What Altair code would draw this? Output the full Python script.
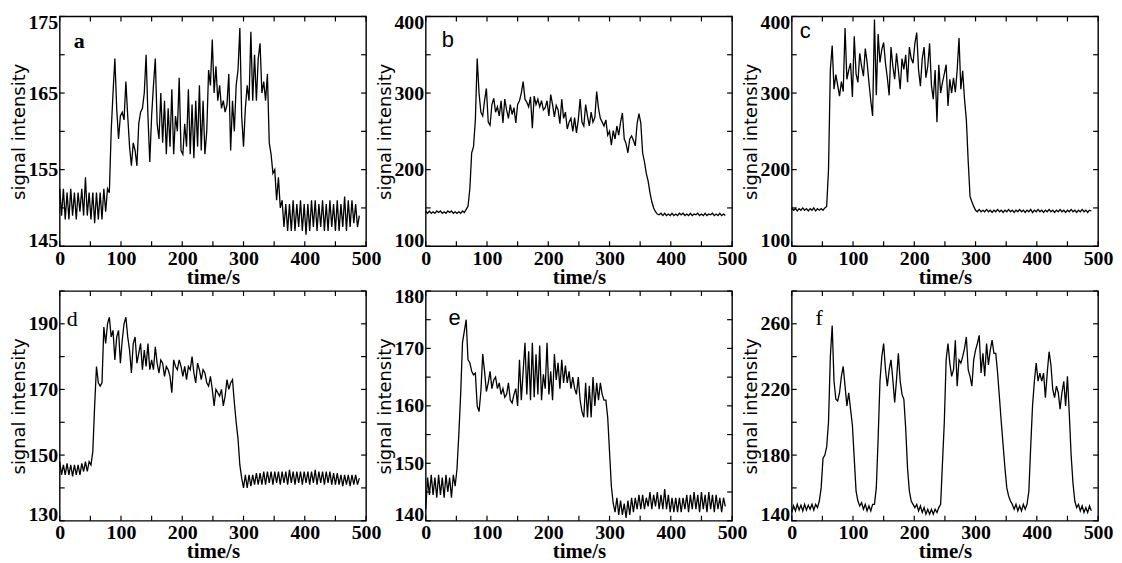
import altair as alt
import pandas as pd

TIME = list(range(0, 490, 3))

A = [152.5, 149, 152.5, 148.5, 152, 148.5, 152.5, 149, 152, 148.5,
     152, 149.5, 152.5, 149, 154, 149, 152, 148.5, 152, 148,
     152, 148.5, 152, 148.5, 152.5, 149.5, 152.5, 152, 160, 165,
     169.5, 163, 159, 162, 162.5, 161.5, 166.5, 162, 158, 155.5,
     158.5, 157.5, 155.5, 161, 162.5, 163, 165, 170, 162, 156,
     162, 166, 169.5, 161, 159, 165, 158.5, 164, 157, 163,
     158, 165.5, 157, 162, 160, 167, 157.5, 157, 161, 158,
     165.5, 157, 163.5, 156.5, 164, 158, 166, 157.5, 164, 157,
     160, 168, 166, 172, 165, 168.5, 164, 166, 163, 164,
     162.5, 163.5, 167.5, 157.5, 164, 160, 166, 168, 173.5, 162,
     158, 163, 166, 164, 173, 164, 170, 164, 169.5, 171.5,
     165, 166.5, 164, 167.5, 158.5, 157, 154.5, 155, 151, 154,
     150, 151, 147.5, 150.5, 147, 150.5, 147, 151, 147, 150.5,
     147.5, 151, 147, 150.5, 146.5, 150.5, 147, 151, 147.5, 151,
     147, 150.5, 147.5, 151, 147, 150.5, 147, 151, 147.5, 150.5,
     147, 151, 147, 150.5, 147.5, 151.5, 147, 151, 147.5, 151,
     148, 150.5, 147.5, 149]

B = [146, 143, 146, 143, 145, 143, 146, 144, 146, 143,
     145, 143, 146, 144, 146, 143, 145, 143, 145, 143,
     146, 144, 148, 152, 175, 222, 230, 265, 345, 300,
     275, 270, 290, 306, 262, 258, 285, 293, 275, 282,
     270, 290, 261, 292, 278, 267, 285, 272, 281, 261,
     285, 290, 300, 315, 292, 288, 282, 295, 254, 296,
     285, 292, 282, 290, 278, 281, 290, 270, 298, 285,
     269, 284, 278, 260, 292, 267, 275, 253, 262, 267,
     250, 268, 248, 265, 292, 262, 257, 285, 270, 257,
     275, 262, 268, 302, 280, 267, 262, 257, 265, 245,
     250, 232, 251, 240, 257, 245, 262, 274, 240, 234,
     222, 240, 244, 238, 231, 260, 273, 261, 222, 210,
     195, 185, 170, 158, 150, 145, 142, 141, 143, 140,
     143, 140, 142, 140, 143, 140, 142, 140, 143, 141,
     143, 140, 142, 140, 143, 140, 142, 141, 143, 140,
     142, 140, 143, 140, 142, 141, 143, 140, 142, 140,
     143, 140, 142, 140]

C = [150, 147, 149, 146, 149, 147, 150, 147, 149, 146,
     149, 147, 150, 146, 149, 147, 149, 147, 150, 152,
     200, 330, 362, 305, 324, 310, 296, 315, 302, 385,
     318, 330, 339, 295, 374, 325, 314, 352, 335, 322,
     358, 340, 314, 290, 270, 396, 297, 377, 340, 357,
     366, 339, 320, 297, 360, 335, 318, 352, 330, 305,
     345, 331, 350, 314, 360, 345, 339, 365, 379, 330,
     309, 345, 360, 320, 335, 365, 310, 292, 330, 262,
     337, 300, 314, 325, 337, 283, 318, 300, 320, 301,
     330, 372, 305, 329, 292, 265, 211, 165, 158, 152,
     147, 145, 148, 145, 147, 145, 148, 145, 147, 144,
     147, 145, 148, 145, 147, 144, 147, 145, 148, 145,
     147, 144, 147, 145, 148, 145, 147, 144, 147, 145,
     148, 144, 147, 145, 148, 145, 147, 144, 147, 145,
     148, 145, 147, 144, 147, 145, 148, 145, 147, 144,
     147, 145, 148, 145, 147, 144, 147, 145, 148, 145,
     147, 144, 147, 146]

D = [148, 144, 147, 144, 147.5, 144, 147, 143.5, 147, 144,
     147, 144, 147.5, 145, 148, 145, 148, 147, 151, 165,
     177, 172, 171, 172, 189, 184, 190, 192, 186, 188,
     179, 186, 188, 178, 185, 190, 192, 186, 182, 175,
     184, 186, 178, 181, 184, 176, 182, 177, 184, 176,
     179, 176, 183, 178, 175, 179, 178, 174, 177, 176,
     174, 169, 179, 177, 176, 179, 177, 174, 177, 173,
     177, 176, 180, 175, 172, 178, 176, 173, 176, 175,
     172, 171, 174, 170, 165, 170, 169, 168, 170, 165,
     168, 173, 170, 172, 173, 166, 160, 155, 147, 143,
     140, 144, 140, 144, 140.5, 144, 141, 144.5, 141, 144.5,
     141, 145, 141, 145, 141.5, 145, 141, 145, 141.5, 145,
     141, 145, 141.5, 145, 141, 145.5, 141.5, 145, 141, 145,
     141.5, 145, 141, 145, 141.5, 145, 141, 145, 141.5, 145.5,
     141, 145, 141.5, 145, 141, 145, 141.5, 145, 141, 144.5,
     141, 144.5, 141, 144, 140.5, 144, 141, 144, 140.5, 144,
     141, 144, 141, 143]

E = [142, 147.5, 144.5, 148, 144.5, 147.5, 144, 148, 144.5, 147.5,
     144, 148, 145, 147.5, 144, 148, 146, 149, 155, 162,
     171, 173, 175, 168, 167.5, 166, 165.4, 165.7, 160, 159,
     162.5, 169, 166, 162.5, 164, 166, 163, 164.5, 165, 163,
     164, 162, 163, 161.5, 162, 164, 161, 160.5, 162, 163,
     160, 168, 161, 166, 171, 162, 169.5, 161, 171, 161.5,
     169, 162, 170.5, 161, 165.5, 163, 171, 162, 166, 161,
     169, 164.5, 167.5, 163, 168, 164, 167, 164, 166, 163,
     165, 163, 162, 165, 161, 159, 158, 164, 158, 163.5,
     158, 165, 160, 164, 161, 164, 162, 161, 161, 158,
     152, 146, 143, 141.5, 144, 141, 143.5, 141, 143, 140.5,
     143.5, 141, 144, 141.5, 144, 142, 144.5, 142, 144.5, 142,
     144, 142.5, 145, 142, 144.5, 142.5, 145, 142, 144.5, 142,
     145.5, 142, 144.5, 141.5, 144, 141.5, 144, 141.5, 144, 141.5,
     144, 142, 144.5, 141.5, 144.5, 142, 145, 142, 144.5, 141.5,
     145, 142, 144.5, 141.5, 145, 142, 144.5, 141.5, 144.5, 142,
     144, 141.5, 144, 142.5]

F = [145, 149, 146, 150, 146.5, 149.5, 146, 150, 146.5, 149.5,
     147, 150, 146.5, 150, 148, 152, 160, 178, 180, 185,
     200, 240, 259, 225, 214, 213, 218, 228, 234, 222,
     210, 218, 208, 198, 178, 158, 152, 149, 151, 147,
     150, 146, 149, 146, 150, 150, 160, 190, 225, 240,
     248, 232, 222, 232, 238, 226, 212, 226, 242, 225,
     217, 214, 196, 172, 158, 152, 150, 148, 150, 146,
     149, 145, 148, 144, 147, 144, 147, 144, 147, 145,
     148, 150, 175, 200, 238, 248, 236, 228, 232, 250,
     222, 238, 236, 240, 245, 252, 232, 228, 222, 238,
     244, 248, 253, 230, 242, 228, 248, 235, 244, 250,
     242, 242, 230, 215, 200, 186, 172, 160, 155, 152,
     150, 147, 150, 146, 149, 146, 150, 147, 150, 158,
     185, 210, 225, 236, 225, 230, 225, 230, 215, 230,
     243, 235, 220, 215, 222, 218, 208, 218, 225, 210,
     228, 205, 180, 163, 152, 148, 150, 146, 149, 145,
     148, 145, 149, 146]

X_LABELS = [0, 100, 200, 300, 400, 500]
X_TICKS = [0, 50, 100, 150, 200, 250, 300, 350, 400, 450, 500]

PANELS = [
    dict(key="a", values=A, domain=[145, 175], labels=[145, 155, 165, 175],
         ticks=[145, 150, 155, 160, 165, 170, 175],
         font="Liberation Serif", weight="bold", lx=14, ly=32),
    dict(key="b", values=B, domain=[100, 400], labels=[100, 200, 300, 400],
         ticks=[100, 150, 200, 250, 300, 350, 400],
         font="Liberation Sans", weight="normal", lx=16, ly=31),
    dict(key="c", values=C, domain=[100, 400], labels=[100, 200, 300, 400],
         ticks=[100, 150, 200, 250, 300, 350, 400],
         font="Liberation Sans", weight="normal", lx=8, ly=22),
    dict(key="d", values=D, domain=[130, 200], labels=[130, 150, 170, 190],
         ticks=[130, 140, 150, 160, 170, 180, 190, 200],
         font="Liberation Serif", weight="normal", lx=7, ly=35),
    dict(key="e", values=E, domain=[140, 180], labels=[140, 150, 160, 170, 180],
         ticks=[140, 145, 150, 155, 160, 165, 170, 175, 180],
         font="Liberation Sans", weight="normal", lx=23, ly=34),
    dict(key="f", values=F, domain=[140, 280], labels=[140, 180, 220, 260],
         ticks=[140, 160, 180, 200, 220, 240, 260, 280],
         font="Liberation Serif", weight="normal", lx=24, ly=34),
]

W, H = 308, 231
TL = 5  # inward tick length


def panel(p):
    df = pd.DataFrame({"time": TIME[:len(p["values"])], "signal": p["values"]})
    x = alt.X("time:Q",
              scale=alt.Scale(domain=[0, 500], nice=False, zero=False),
              axis=alt.Axis(values=X_LABELS, title="time/s", format="d"))
    y = alt.Y("signal:Q",
              scale=alt.Scale(domain=p["domain"], nice=False, zero=False),
              axis=alt.Axis(values=p["labels"], title="signal intensity", format="d"))
    line = alt.Chart(df).mark_line(color="black", strokeWidth=1.3).encode(x=x, y=y)

    xt = pd.DataFrame({"time": X_TICKS})
    yt = pd.DataFrame({"signal": p["ticks"]})
    rule = dict(color="black", strokeWidth=1.2)
    t_bottom = alt.Chart(xt).mark_rule(**rule).encode(
        x=x, y=alt.value(H), y2=alt.value(H - TL))
    t_top = alt.Chart(xt).mark_rule(**rule).encode(
        x=x, y=alt.value(0), y2=alt.value(TL))
    t_left = alt.Chart(yt).mark_rule(**rule).encode(
        y=y, x=alt.value(0), x2=alt.value(TL))
    t_right = alt.Chart(yt).mark_rule(**rule).encode(
        y=y, x=alt.value(W), x2=alt.value(W - TL))

    letter = alt.Chart(pd.DataFrame({"k": [0]})).mark_text(
        text=p["key"], align="left", baseline="alphabetic",
        font=p["font"], fontWeight=p["weight"], fontSize=22, color="black",
    ).encode(x=alt.value(p["lx"]), y=alt.value(p["ly"]))

    return alt.layer(line, t_bottom, t_top, t_left, t_right, letter).properties(
        width=W, height=H)


chart = alt.concat(
    *[panel(p) for p in PANELS], columns=3,
    spacing={"row": 45, "column": 60}, bounds="flush",
).properties(
    padding={"left": 2, "top": 2, "right": 0, "bottom": 0},
    background="white",
).configure_view(
    stroke="black", strokeWidth=1.4
).configure_axis(
    grid=False, domain=False, ticks=False,
    labelFont="Liberation Serif", labelFontSize=20, labelFontWeight="bold",
    labelColor="black", titleColor="black",
).configure_axisX(
    labelFlush=False, labelPadding=2, labelOverlap=False,
    titleFont="Liberation Serif", titleFontWeight="bold", titleFontSize=21,
    titlePadding=0, minExtent=20, maxExtent=20,
).configure_axisY(
    labelFlush=True, labelFlushOffset=4, labelPadding=2, labelOverlap=False,
    titleFont="DejaVu Sans", titleFontWeight="normal", titleFontSize=18,
    titlePadding=0, minExtent=31, maxExtent=31,
)

chart.save("out.html", embed_options={"renderer": "svg", "actions": False})
